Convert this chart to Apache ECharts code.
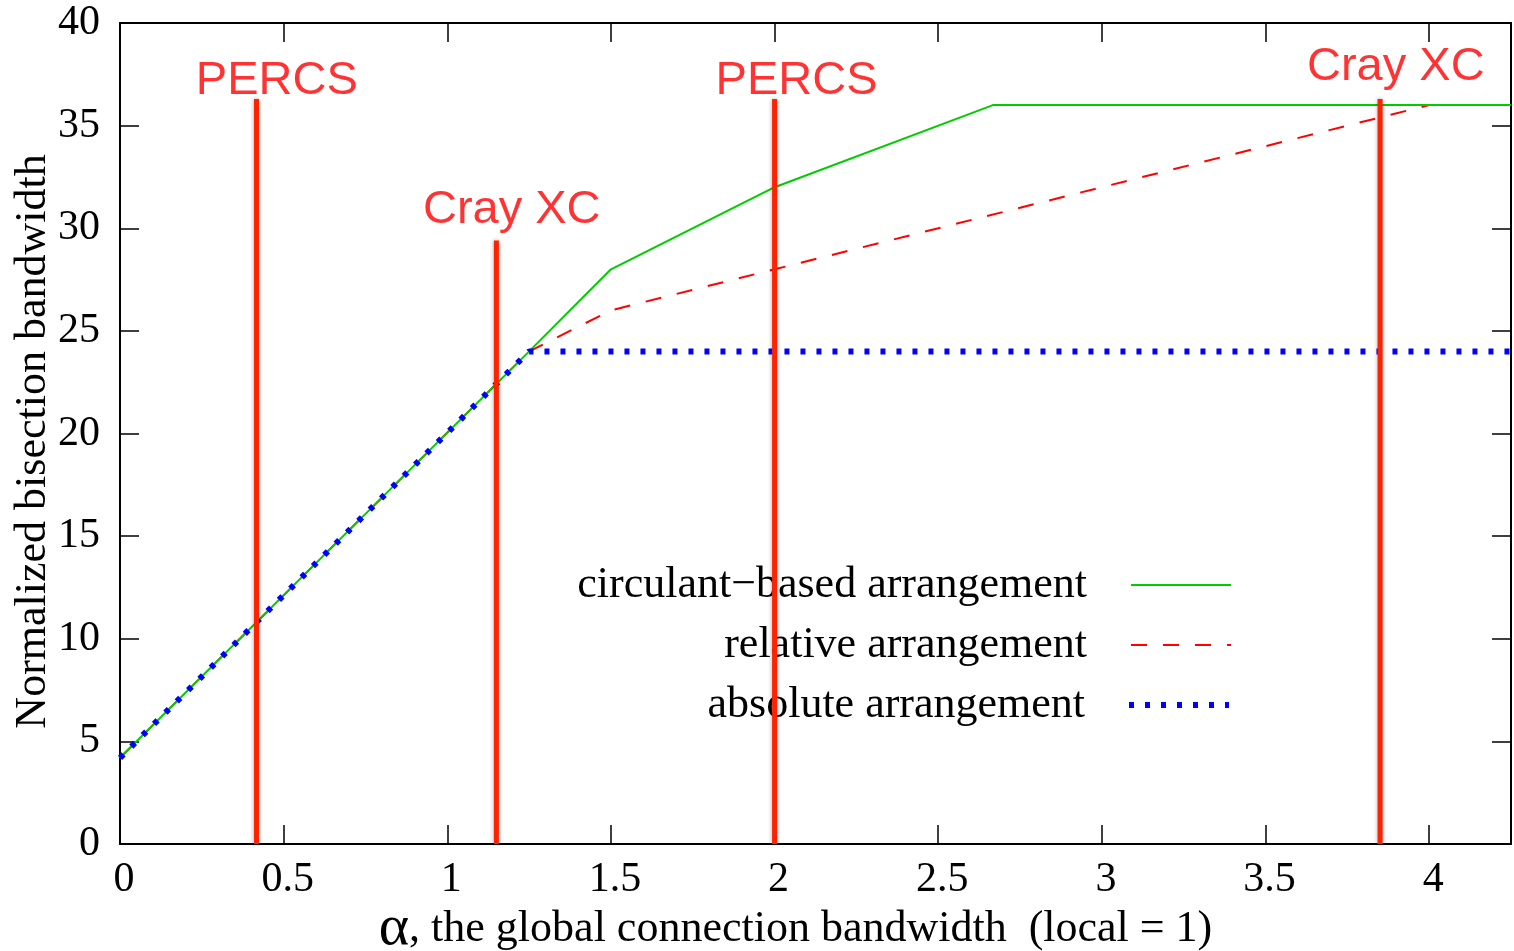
<!DOCTYPE html>
<html>
<head>
<meta charset="utf-8">
<script src="https://cdn.jsdelivr.net/npm/echarts@6/dist/echarts.min.js"></script>
<style>html,body{margin:0;padding:0;background:#fff;}#c{width:1514px;height:951px;}</style>
</head>
<body>
<div id="c"></div>
<script>
// ---- data ----
const seriesNames = ['circulant\u2212based arrangement', 'relative arrangement', 'absolute arrangement'];
const circulantX = [0, 1.25, 1.5, 2, 2.667, 4.25];
const circulantY = [4.2, 24, 28, 32, 36, 36];
const relativeX = [0, 1.25, 1.5, 2, 4, 4.25];
const relativeY = [4.2, 24, 26, 28, 36, 36];
const absoluteX = [0, 1.25, 4.25];
const absoluteY = [4.2, 24, 24];
const markerNames = ['PERCS', 'Cray XC', 'PERCS', 'Cray XC'];
const markerX = [0.417, 1.15, 2.0, 3.85];
const markerTop = [36.3, 29.4, 36.3, 36.3];
const markerLabelX = [0.479, 1.197, 2.067, 3.898];
const markerLabelY = [37.15, 30.9, 37.15, 37.85];
const xTicks = [0, 0.5, 1, 1.5, 2, 2.5, 3, 3.5, 4];
const yTicks = [0, 5, 10, 15, 20, 25, 30, 35, 40];

const zip = (xs, ys) => xs.map((x, i) => [x, ys[i]]);
const serif = 'Liberation Serif';
const sans = 'Liberation Sans';

const chart = echarts.init(document.getElementById('c'));

const series = [
  { name: seriesNames[0], type: 'line', data: zip(circulantX, circulantY), symbol: 'none',
    lineStyle: { color: '#00cc00', width: 2 }, itemStyle: { color: '#00cc00' }, z: 3, animation: false },
  { name: seriesNames[1], type: 'line', data: zip(relativeX, relativeY), symbol: 'none',
    lineStyle: { color: '#ff0000', width: 2, type: [16, 16] }, itemStyle: { color: '#ff0000' }, z: 2, animation: false },
  { name: seriesNames[2], type: 'line', data: zip(absoluteX, absoluteY), symbol: 'none',
    lineStyle: { color: '#0000ff', width: 6, type: [5, 11] }, itemStyle: { color: '#0000ff' }, z: 4, animation: false }
];
markerX.forEach((x, i) => {
  series.push({
    type: 'line', data: [[x, 0], [x, markerTop[i]]], symbol: 'none', silent: true, z: 5, animation: false,
    lineStyle: { color: '#ff2200', width: 5, shadowColor: 'rgba(0,0,0,0.35)', shadowBlur: 4 }
  });
});
series.push({
  type: 'scatter', symbolSize: 1, itemStyle: { color: 'rgba(0,0,0,0)' }, z: 6, animation: false, silent: true,
  data: markerNames.map((n, i) => ({ value: [markerLabelX[i], markerLabelY[i]], name: n })),
  label: { show: true, position: 'inside', formatter: p => p.name, color: '#ff0000',
    fontFamily: sans, fontSize: 47 }
});

const legendBase = (name, top) => ({
  data: [name], orient: 'vertical', align: 'right', right: 282, top: top, padding: 0,
  itemWidth: 100, itemHeight: 14, selectedMode: false,
  itemStyle: { color: 'rgba(0,0,0,0)', borderWidth: 0, opacity: 0 },
  lineStyle: { width: 'inherit' },
  textStyle: { fontFamily: serif, fontSize: 44, color: '#000', padding: [0, 39, 0, 0], lineHeight: 44 }
});

const axisCommon = {
  type: 'value',
  axisLine: { show: true, onZero: false, lineStyle: { color: '#000', width: 2 } },
  axisTick: { show: true, inside: true, length: 19, lineStyle: { color: '#000', width: 1.5 } },
  splitLine: { show: false }
};

chart.setOption({
  animation: false,
  grid: { left: 120, right: 3, top: 23, bottom: 107, containLabel: false, outerBoundsMode: 'none' },
  legend: [
    legendBase(seriesNames[0], 563),
    legendBase(seriesNames[1], 623),
    legendBase(seriesNames[2], 683)
  ],
  xAxis: [
    Object.assign({}, axisCommon, {
      position: 'bottom', min: 0, max: 4.25, interval: 0.5,
      axisLabel: { show: true, fontFamily: serif, fontSize: 42, color: '#000', margin: 15, showMaxLabel: false,
        padding: [0, 0, 0, 8],
        formatter: v => xTicks.indexOf(v) >= 0 ? String(v) : '' },
      name: '{a|\u03b1}, the global connection bandwidth  (local = 1)', nameLocation: 'middle', nameGap: 56,
      nameMoveOverlap: false,
      nameTextStyle: { fontFamily: serif, fontSize: 44, color: '#000', padding: [0, 40, 0, 0],
        rich: { a: { fontFamily: serif, fontSize: 58, color: '#000' } } }
    }),
    Object.assign({}, axisCommon, {
      position: 'top', min: 0, max: 4.25, interval: 0.5, axisLabel: { show: false }
    })
  ],
  yAxis: [
    Object.assign({}, axisCommon, {
      position: 'left', min: 0, max: 40, interval: 5,
      axisLabel: { show: true, fontFamily: serif, fontSize: 42, color: '#000', margin: 20,
        padding: [5, 0, 0, 0],
        formatter: v => yTicks.indexOf(v) >= 0 ? String(v) : '' },
      name: 'Normalized bisection bandwidth', nameLocation: 'middle', nameGap: 65,
      nameMoveOverlap: false,
      nameTextStyle: { fontFamily: serif, fontSize: 44, color: '#000', padding: [0, 16, 0, 0] }
    }),
    Object.assign({}, axisCommon, {
      position: 'right', min: 0, max: 40, interval: 5, axisLabel: { show: false }
    })
  ],
  series: series
});
</script>
</body>
</html>
